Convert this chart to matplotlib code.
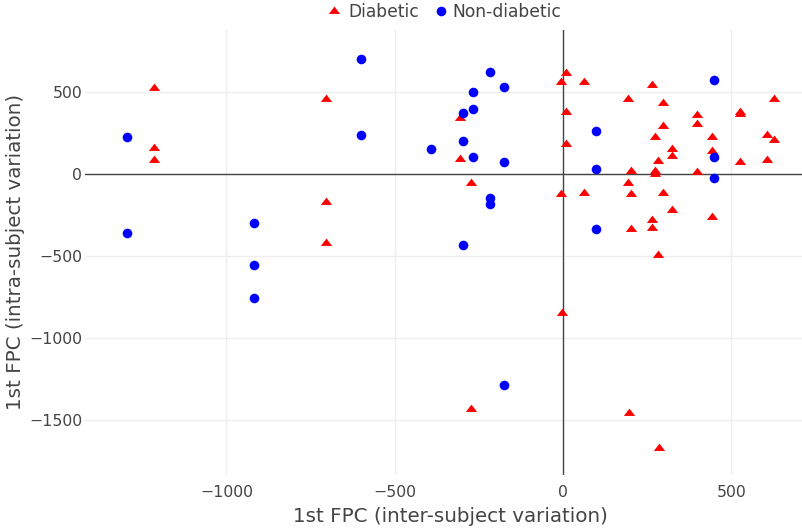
import matplotlib
matplotlib.use("Agg")
import matplotlib.pyplot as plt

# First functional principal component scores
diabetic_x = [-1215, -1215, -1215, -704, -704, -704, -306, -306, -273, -273,
              9, -6, 9, 9, -6, -3, 196, 285,
              62, 264, 194, 297, 627, 399, 527, 527, 297, 399, 272, 442, 606, 627,
              325, 325, 442, 283, 527, 606, 202, 272, 272, 399, 194, 62, 202, 297,
              325, 442, 264, 202, 264, 283]
diabetic_y = [525, 159, 85, 457, -171, -421, 342, 92, -55, -1435,
              616, 561, 378, 183, -122, -848, -1456, -1670,
              559, 543, 459, 435, 458, 362, 378, 364, 293, 307, 224, 224, 238, 207,
              152, 112, 142, 79, 75, 87, 16, 16, -2, 10, -57, -114, -120, -116,
              -222, -264, -281, -334, -331, -494]

nondiabetic_x = [-1294, -1294, -917, -917, -917, -600, -600, -218, -175, -267,
                 -267, -297, -297, -391, -267, -175, -218, -218, -297, -176,
                 449, 97, 97, 449, 449, 97]
nondiabetic_y = [224, -358, -301, -555, -758, 701, 238, 622, 529, 500,
                 398, 374, 199, 154, 102, 71, -144, -181, -431, -1290,
                 573, 262, 30, 106, -23, -334]

x_ticks = [-1000, -500, 0, 500]
y_ticks = [-1500, -1000, -500, 0, 500]

TEXT = "#444444"
RED = "#ff0000"
BLUE = "#0000ff"
plt.rcParams["font.family"] = ["DejaVu Sans"]

# wide, flat upward triangle
TRI = [(-1.1547, -0.5), (1.1547, -0.5), (0.0, 1.0), (-1.1547, -0.5)]
TRI_S = 66
DOT_S = 48

fig = plt.figure(figsize=(8.02, 5.31), dpi=100)
W, H = 802, 531
ax = fig.add_axes([85 / W, 1 - 475 / H, (802 - 85) / W, (475 - 30) / H])

ax.set_xlim(-1420, 710)
ax.set_ylim(-1836, 878)

for s in ax.spines.values():
    s.set_visible(False)

ax.set_xticks(x_ticks)
ax.set_yticks(y_ticks)
ax.set_xticklabels(["\u2212" + str(-t) if t < 0 else str(t) for t in x_ticks])
ax.set_yticklabels(["\u2212" + str(-t) if t < 0 else str(t) for t in y_ticks])
ax.tick_params(length=0, colors=TEXT, labelsize=11.3)
ax.tick_params(axis="x", pad=7)
ax.tick_params(axis="y", pad=2)
ax.grid(True, color="#eeeeee", linewidth=1)
ax.set_axisbelow(True)
ax.axhline(0, color="#444444", linewidth=1, zorder=1)
ax.axvline(0, color="#444444", linewidth=1, zorder=1)

ax.scatter(diabetic_x, diabetic_y, marker=TRI, s=TRI_S, color=RED,
           linewidths=0, zorder=3)
ax.scatter(nondiabetic_x, nondiabetic_y, marker="o", s=DOT_S, color=BLUE,
           linewidths=0, zorder=3)

fig.text(450 / W, 1 - 516 / H, "1st FPC (inter-subject variation)",
         ha="center", va="center", fontsize=14.3, color=TEXT)
fig.text(16 / W, 1 - 252 / H, "1st FPC (intra-subject variation)",
         ha="center", va="center", rotation=90, fontsize=14.3, color=TEXT)

# legend row along the top, laid out in pixel units
lg = fig.add_axes([0, 0, 1, 1], facecolor="none")
lg.set_xlim(0, W)
lg.set_ylim(H, 0)
lg.axis("off")
lg.scatter([334], [11], marker=TRI, s=TRI_S, color=RED, linewidths=0)
lg.scatter([441], [11], marker="o", s=DOT_S, color=BLUE, linewidths=0)
lg.text(348, 12, "Diabetic", ha="left", va="center", fontsize=12.3, color=TEXT)
lg.text(452, 12, "Non-diabetic", ha="left", va="center", fontsize=12.3,
        color=TEXT)

fig.savefig("out.png", dpi=100)
